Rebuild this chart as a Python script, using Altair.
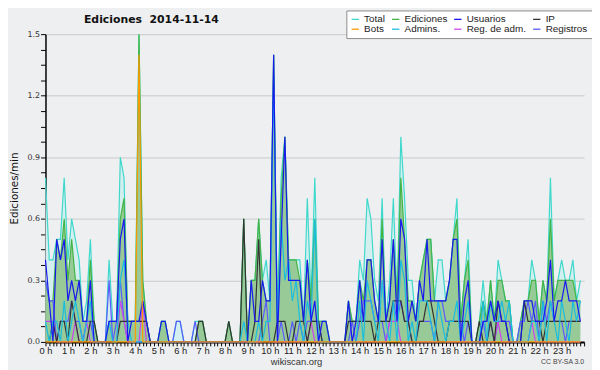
import altair as alt
import pandas as pd

# ---- data: edits per 10-minute slot (144 slots, 00:00 .. 23:50) ----
series_names = ["Total", "Ediciones", "Usuarios", "IP",
                "Bots", "Admins.", "Reg. de adm.", "Registros"]
series_colors = ["#3FD8CC", "#44B444", "#1818F0", "#333333",
                 "#FF9900", "#19BDE0", "#CC44EE", "#5A5AFF"]

total = [8, 4, 4, 5, 5, 8,  4, 6, 5, 4, 1, 2,  5, 1, 0, 0, 0, 4,
         1, 1, 9, 8, 1, 1,  1, 15, 3, 1, 0, 0,  0, 1, 1, 0, 0, 1,
         1, 0, 0, 0, 1, 1,  1, 0, 0, 0, 0, 0,  0, 1, 0, 0, 0, 6,
         0, 3, 3, 6, 3, 4,  2, 14, 1, 8, 10, 4,  4, 4, 4, 1, 7, 2,
         8, 1, 1, 1, 0, 0,  0, 0, 0, 2, 1, 1,  4, 3, 7, 6, 3, 2,
         7, 1, 3, 7, 2, 10,  7, 3, 3, 1, 3, 4,  5, 5, 2, 4, 4, 2,
         3, 5, 7, 1, 3, 5,  0, 0, 1, 3, 1, 3,  1, 4, 3, 2, 2, 0,
         0, 1, 2, 2, 4, 3,  1, 3, 2, 8, 2, 3,  4, 3, 3, 4, 2, 3]
ediciones = [3, 2, 2, 5, 4, 6,  3, 5, 3, 3, 1, 1,  4, 1, 0, 0, 0, 1,
             1, 1, 6, 7, 1, 1,  1, 15, 3, 1, 0, 0,  0, 1, 1, 0, 0, 0,
             0, 0, 0, 0, 0, 1,  1, 0, 0, 0, 0, 0,  0, 1, 0, 0, 0, 6,
             0, 3, 3, 6, 3, 2,  2, 14, 1, 7, 10, 4,  4, 4, 3, 1, 4, 2,
             6, 1, 1, 1, 0, 0,  0, 0, 0, 2, 1, 1,  3, 2, 4, 4, 2, 1,
             6, 1, 2, 5, 2, 8,  5, 2, 2, 1, 3, 4,  5, 5, 2, 2, 2, 2,
             3, 5, 6, 1, 3, 4,  0, 0, 1, 2, 1, 3,  1, 3, 3, 2, 2, 0,
             0, 1, 2, 2, 3, 3,  1, 3, 2, 6, 2, 3,  3, 3, 3, 3, 2, 2]
usuarios = [4, 2, 0, 5, 4, 5,  2, 3, 2, 3, 1, 1,  3, 0, 0, 0, 0, 1,
            1, 1, 5, 6, 0, 1,  1, 1, 2, 1, 0, 0,  0, 1, 1, 0, 0, 0,
            0, 0, 0, 0, 0, 0,  0, 0, 0, 0, 0, 0,  0, 0, 0, 0, 0, 0,
            0, 3, 1, 1, 3, 2,  2, 14, 0, 5, 10, 3,  3, 3, 3, 1, 4, 1,
            2, 0, 1, 1, 0, 0,  0, 0, 0, 2, 0, 1,  3, 1, 4, 4, 2, 1,
            5, 1, 2, 5, 1, 6,  5, 1, 2, 1, 3, 2,  5, 2, 2, 2, 2, 2,
            3, 5, 5, 0, 2, 3,  0, 0, 0, 1, 1, 2,  1, 2, 1, 1, 0, 0,
            0, 0, 2, 2, 2, 1,  1, 1, 2, 4, 1, 2,  2, 3, 2, 2, 2, 1]
ip = [0, 0, 1, 0, 1, 1,  0, 2, 1, 0, 0, 0,  1, 1, 0, 0, 0, 0,
      0, 0, 1, 1, 1, 1,  1, 1, 1, 1, 0, 0,  0, 0, 0, 0, 0, 0,
      0, 0, 0, 0, 0, 1,  1, 0, 0, 0, 0, 0,  0, 1, 0, 0, 0, 6,
      0, 0, 1, 5, 0, 0,  0, 0, 1, 1, 1, 0,  0, 1, 1, 1, 0, 1,
      1, 1, 0, 0, 0, 0,  0, 0, 0, 1, 1, 1,  1, 1, 1, 1, 0, 1,
      1, 1, 1, 2, 2, 2,  1, 1, 0, 0, 1, 1,  2, 2, 1, 0, 0, 0,
      1, 1, 1, 1, 1, 1,  0, 0, 1, 0, 0, 1,  0, 2, 1, 1, 0, 0,
      0, 0, 2, 1, 1, 1,  1, 0, 1, 1, 1, 1,  1, 1, 1, 1, 1, 1]
bots = [0] * 24 + [0, 14, 0, 0, 0, 0] + [0] * 114
admins = [1, 0, 1, 1, 0, 2,  0, 1, 2, 1, 0, 1,  2, 0, 0, 0, 0, 1,
          0, 0, 3, 4, 1, 0,  0, 0, 0, 0, 0, 0,  0, 0, 0, 0, 0, 0,
          0, 0, 0, 0, 0, 0,  0, 0, 0, 0, 0, 0,  0, 0, 0, 0, 0, 1,
          0, 0, 0, 1, 0, 1,  1, 13, 1, 6, 3, 4,  2, 3, 1, 0, 2, 1,
          6, 0, 0, 0, 0, 0,  0, 0, 0, 0, 0, 0,  2, 0, 3, 2, 1, 0,
          3, 1, 0, 2, 0, 4,  3, 0, 1, 0, 2, 2,  2, 1, 0, 2, 1, 0,
          1, 1, 2, 0, 1, 2,  0, 0, 0, 2, 0, 2,  1, 1, 2, 1, 2, 0,
          0, 0, 0, 0, 1, 1,  0, 2, 0, 2, 1, 0,  2, 1, 0, 2, 1, 2]
reg_adm = [1, 1, 1, 0, 0, 0,  0, 0, 1, 0, 0, 1,  0, 0, 0, 0, 0, 0,
           0, 0, 2, 1, 0, 0,  0, 0, 2, 0, 0, 0,  0, 0, 0, 0, 0, 0,
           0, 0, 0, 0, 0, 0,  0, 0, 0, 0, 0, 0,  0, 0, 0, 0, 0, 0,
           0, 0, 0, 0, 0, 0,  0, 0, 0, 0, 0, 0,  0, 0, 0, 0, 0, 1,
           0, 0, 0, 0, 0, 0,  0, 0, 0, 0, 0, 0,  0, 0, 0, 0, 0, 0,
           0, 0, 1, 1, 1, 0,  0, 0, 0, 0, 0, 0,  0, 0, 0, 0, 0, 0,
           0, 0, 0, 0, 0, 0,  0, 0, 0, 0, 0, 0,  0, 1, 0, 0, 0, 0,
           0, 0, 0, 0, 1, 0,  0, 0, 0, 0, 0, 0,  0, 0, 0, 0, 0, 0]
registros = [3, 2, 2, 0, 1, 1,  1, 2, 1, 1, 0, 1,  1, 0, 0, 0, 0, 3,
             0, 1, 3, 1, 0, 0,  0, 0, 0, 0, 0, 0,  0, 0, 0, 0, 0, 1,
             1, 0, 0, 0, 1, 0,  0, 0, 0, 0, 0, 0,  0, 0, 0, 0, 0, 0,
             0, 0, 0, 0, 1, 2,  0, 0, 0, 1, 0, 0,  1, 0, 1, 0, 1, 1,
             1, 1, 0, 0, 0, 0,  0, 0, 0, 0, 1, 0,  1, 2, 2, 2, 1, 1,
             1, 0, 1, 2, 1, 2,  1, 1, 0, 0, 1, 1,  1, 1, 0, 2, 2, 1,
             1, 1, 1, 1, 0, 1,  0, 0, 0, 1, 0, 1,  0, 1, 1, 1, 1, 0,
             0, 1, 1, 2, 1, 2,  0, 2, 1, 2, 1, 1,  1, 0, 1, 1, 1, 1]

slot_minutes = list(range(0, 1440, 10))
x_tick_minutes = list(range(0, 1441, 10))
y_tick_values = [0, 0.075, 0.15, 0.225, 0.3, 0.375, 0.45, 0.525, 0.6, 0.675,
                 0.75, 0.825, 0.9, 0.975, 1.05, 1.125, 1.2, 1.275, 1.35,
                 1.425, 1.5]

title_text = "Ediciones \u00a02014-11-14"
y_title = "Ediciones/min"
x_title = "wikiscan.org"
licence = "CC BY-SA 3.0"

counts = [total, ediciones, usuarios, ip, bots, admins, reg_adm, registros]
rows = []
for name, vals in zip(series_names, counts):
    for m, v in zip(slot_minutes, vals):
        rows.append({"serie": name, "minuto": m, "valor": v / 10.0})
df = pd.DataFrame(rows)

FONT = "DejaVu Sans"
SMALL = "Liberation Sans"

x_enc = alt.X(
    "minuto:Q",
    scale=alt.Scale(domain=[0, 1440], nice=False, zero=False),
    axis=alt.Axis(
        values=x_tick_minutes,
        labelExpr="(datum.value % 60 == 0 && datum.value < 1440) ? (datum.value / 60) + ' h' : ''",
        labelOverlap=False, labelFlush=False, grid=False,
        tickSize=4, tickColor="#000", domainColor="#000", domainWidth=2,
        labelFontSize=9.5, labelColor="#222", labelFont=SMALL, labelPadding=0,
        title=x_title, titleFont=SMALL, titleFontSize=9.5, titleFontWeight="normal",
        titleColor="#333", titleX=254, titleY=20, titleAlign="center",
        titleBaseline="middle",
    ),
)
is_major = "abs(datum.value / 0.3 - round(datum.value / 0.3)) < 0.001"
y_enc = alt.Y(
    "valor:Q",
    scale=alt.Scale(domain=[0, 1.5], nice=False),
    axis=alt.Axis(
        values=y_tick_values,
        labelExpr=f"{is_major} ? format(datum.value, '.1f') : ''",
        gridOpacity={"condition": {"test": is_major + " && datum.value > 0", "value": 1}, "value": 0},
        grid=True, gridColor="#C9CACC", gridWidth=1,
        tickSize=5, tickColor="#000", domainColor="#000", domainWidth=1.5,
        labelFontSize=8, labelColor="#333", labelFont=FONT, labelPadding=1,
        labelOverlap=False,
        title=y_title, titleFont=FONT, titleFontSize=10.5, titleFontWeight="normal",
        titleColor="#111", titleX=-28, titleY=156, titleAngle=-90,
        titleBaseline="alphabetic",
    ),
)
color_enc = alt.Color(
    "serie:N",
    scale=alt.Scale(domain=series_names, range=series_colors),
    legend=alt.Legend(
        orient="none", legendX=305, legendY=-24, direction="horizontal",
        columns=4, title=None, symbolType="stroke", symbolStrokeWidth=1.3,
        symbolSize=55, labelFontSize=10, labelFont=SMALL, labelColor="#222",
        labelOffset=4, fillColor="#FFFFFF", strokeColor="#8A8A8A", padding=4,
        rowPadding=0, columnPadding=3,
    ),
)

base = alt.Chart(df)

area_total = base.transform_filter(alt.datum.serie == "Total").mark_area(
    color="#D4EFEF", opacity=1).encode(x=x_enc, y=y_enc)
area_edits = base.transform_filter(alt.datum.serie == "Ediciones").mark_area(
    color="#98CA98", opacity=1).encode(x=x_enc, y=y_enc)

draw_order = ["Total", "Ediciones", "Registros", "Reg. de adm.", "IP",
              "Admins.", "Usuarios", "Bots"]
lines = [
    base.transform_filter(alt.datum.serie == n).mark_line(strokeWidth=1.2).encode(
        x=x_enc, y=y_enc, color=color_enc)
    for n in draw_order
]

title_mark = alt.Chart(pd.DataFrame({"t": [title_text]})).mark_text(
    align="left", baseline="alphabetic", fontSize=11, font=FONT,
    fontWeight="bold", color="#111"
).encode(text="t:N", x=alt.value(39), y=alt.value(-11))

licence_text = alt.Chart(pd.DataFrame({"t": [licence]})).mark_text(
    align="right", baseline="middle", fontSize=7, font=SMALL, color="#444"
).encode(text="t:N", x=alt.value(546), y=alt.value(332))

chart = alt.layer(area_total, area_edits, *lines, title_mark, licence_text).properties(
    width=546, height=312,
    autosize=alt.AutoSizeParams(type="none"),
    padding={"left": 38, "top": 24, "right": 8, "bottom": 30},
    background="#EEEFF0",
).configure_view(stroke=None, fill="#EEEFF0")

chart.save("out.html", embed_options={"renderer": "svg", "actions": False})
